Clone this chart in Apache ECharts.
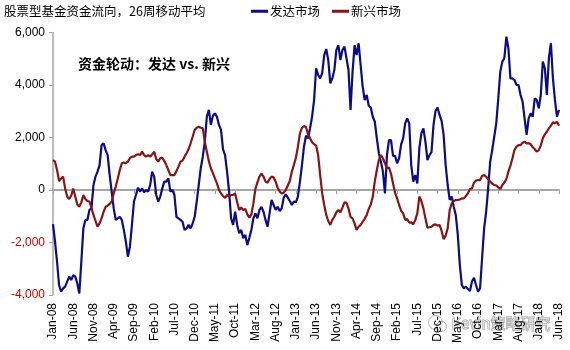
<!DOCTYPE html>
<html>
<head>
<meta charset="utf-8">
<script src="https://cdn.jsdelivr.net/npm/echarts@6/dist/echarts.min.js"></script>
<style>
  html, body { margin: 0; padding: 0; background: #ffffff; }
  #chart { width: 570px; height: 350px; }
</style>
</head>
<body>
<div id="chart"></div>
<script>
// Equity fund flows, 26-week moving average, sampled twice a month (Jan-08 .. Jun-18)
const monthNames = ['Jan', 'Feb', 'Mar', 'Apr', 'May', 'Jun', 'Jul', 'Aug', 'Sep', 'Oct', 'Nov', 'Dec'];
const startYear = 2008;
const endYear = 2018;
const endMonth = 5; // June
const labelEvery = 10; // one label every 5 months (2 samples per month)

// Developed markets
const developed = [
  -1300, -1970, -2730, -3620, -3870, -3750, -3680, -3490, -3300, -3430,
  -3240, -3300, -3560, -3940, -2730, -1460, -1140, -1140, -760, -700,
  190, 510, 700, 950, 1710, 1780, 1520, 1330, 570, -60,
  -700, -1140, -1080, -1020, -1140, -1520, -1970, -2540, -2160, -1330,
  -440, -190, 90, -60, 60, -90, 0, -60, 190, 700,
  510, -190, -440, -250, 60, 320, 320, 440, -60, 0,
  -190, -1020, -1080, -1140, -1210, -1520, -1460, -1330, -1460, -1270,
  -1020, -440, 190, 830, 1270, 1840, 2790, 3050, 2480, 2830,
  2920, 2790, 2480, 2300, 1550, 1330, 700, -60, -1080, -1330,
  -830, -1330, -1650, -1520, -1840, -1710, -2100, -1820, -1520, -1080,
  -890, -1080, -760, -640, -830, -1140, -1400, -890, -380, -570,
  -760, -640, -800, -700, -290, -170, -290, -420, -570, -440,
  -470, -250, 320, 950, 1650, 2070, 1970, 2350, 2790, 3430,
  4640, 4380, 4250, 4450, 5140, 5370, 4950, 4060, 4250, 4570,
  5330, 5520, 4950, 5330, 5460, 5020, 4570, 3050, 4500, 5520,
  5140, 5590, 4760, 3940, 3430, 3620, 3210, 3140, 2790, 2600,
  1970, 1400, 1080, 700, -130, 1330, 1900, 1900, 1300, 1300,
  1020, 1210, 1740, 1970, 2540, 2730, 2540, 950, 320, 570,
  250, 1590, 2160, 2350, 1840, 1140, 1330, 1440, 2480, 3010,
  3140, 2860, 2630, 2100, 950, 190, -380, -250, -640, -950,
  -1710, -2860, -3620, -3750, -3680, -3770, -3850, -3490, -3340, -3620,
  -3870, -3750, -2600, -1460, -830, 60, 1080, 1520, 2030, 2540,
  3490, 4510, 4890, 5020, 5840, 5400, 4250, 4250, 4190, 4000,
  4000, 3620, 3370, 2730, 2100, 2730, 2920, 2790, 3490, 3430,
  3110, 3620, 4890, 4640, 3620, 5020, 5590, 4250, 3430, 2790,
  3050
];

// Emerging markets
const emerging = [
  1140, 1080, 760, 340, 440, 510, 60, -250, -340, -220,
  60, -250, -550, -640, -470, -190, -340, -420, -440, -670,
  -950, -1180, -1400, -1270, -1080, -830, -640, -600, -530, -440,
  -130, 130, 440, 760, 1020, 1050, 1020, 1080, 1210, 1270,
  1270, 1330, 1360, 1330, 1460, 1330, 1270, 1330, 1270, 1360,
  1460, 1180, 1080, 1210, 1240, 1100, 950, 760, 570, 570,
  570, 720, 890, 1080, 1120, 1270, 1400, 1560, 1780, 2030,
  2290, 2370, 2410, 2370, 2350, 1840, 1460, 1100, 830, 640,
  440, 250, 0, -130, -230, -300, -190, -250, -190, -190,
  -130, -470, -760, -670, -760, -720, -930, -1050, -930, -510,
  40, 290, 510, 620, 510, 320, 280, 420, 510, 480,
  320, 90, -60, -130, -100, 0, 170, 340, 700, 950,
  1230, 1650, 2160, 2370, 2440, 2390, 2120, 1970, 1820, 1750,
  1690, 1330, 570, -130, -570, -950, -1180, -1330, -1140, -1020,
  -850, -760, -850, -670, -470, -490, -700, -1020, -1080, -1270,
  -1520, -1400, -1330, -1210, -1100, -950, -720, -550, -250, 340,
  760, 1140, 1330, 1210, 1020, 830, 860, 620, 250, -100,
  -320, -570, -790, -890, -1140, -1110, -1240, -1230, -1310, -1140,
  -890, -250, -420, -700, -1080, -1440, -1420, -1400, -1330, -1310,
  -1360, -1330, -1560, -1870, -1740, -1460, -760, -510, -420, -380,
  -380, -360, -320, -320, -230, -130, 40, 60, 280, 360,
  380, 380, 530, 570, 510, 410, 320, 240, 190, 170,
  100, 40, 190, 280, 420, 700, 930, 1210, 1520, 1650,
  1710, 1710, 1800, 1840, 1780, 1780, 1750, 1630, 1560, 1460,
  1520, 1690, 1970, 2120, 2220, 2350, 2450, 2580, 2540, 2600,
  2450
];

// Two sample slots per month; the first slot carries the month label
const periods = [];
for (let y = startYear; y <= endYear; y++) {
  for (let m = 0; m < 12; m++) {
    if (y === endYear && m > endMonth) break;
    const label = monthNames[m] + '-' + String(y).slice(2);
    periods.push(label);
    periods.push(label + ' H2');
  }
}
periods.length = developed.length;

const font = 'Liberation Sans, Arial, sans-serif';
const cjkFont = 'Noto Sans CJK SC, sans-serif';
const axisGray = '#a6a6a6';

const chart = echarts.init(document.getElementById('chart'), null, { renderer: 'canvas' });

chart.setOption({
  animation: false,
  backgroundColor: '#ffffff',
  title: {
    text: '股票型基金资金流向，26周移动平均',
    left: 4,
    top: 5,
    padding: 0,
    textStyle: { fontFamily: cjkFont, fontSize: 12.5, fontWeight: 'normal', color: '#000000' }
  },
  legend: {
    left: 251,
    top: 5,
    padding: 0,
    itemGap: 12,
    itemWidth: 17,
    itemHeight: 3,
    icon: 'rect',
    textStyle: { fontFamily: cjkFont, fontSize: 12.5, color: '#000000', padding: [0, 0, 0, -3] },
    data: ['发达市场', '新兴市场']
  },
  grid: { left: 53, right: 11, top: 32.5, bottom: 55, containLabel: false },
  xAxis: [
    {
      type: 'category',
      data: periods,
      boundaryGap: false,
      position: 'bottom',
      axisLine: { show: false, onZero: false },
      axisTick: { show: false },
      axisLabel: {
        interval: (idx) => idx % labelEvery === 0,
        rotate: 90,
        margin: 8,
        fontFamily: font,
        fontSize: 12,
        color: '#000000'
      },
      splitLine: { show: false }
    },
    {
      type: 'category',
      data: periods,
      boundaryGap: false,
      position: 'bottom',
      axisLine: { show: true, onZero: true, lineStyle: { color: axisGray, width: 2 } },
      axisTick: {
        show: true,
        interval: (idx) => idx % labelEvery === 0,
        length: 4,
        lineStyle: { color: axisGray, width: 1 }
      },
      axisLabel: { show: false },
      splitLine: { show: false }
    }
  ],
  yAxis: {
    type: 'value',
    min: -4000,
    max: 6000,
    interval: 2000,
    axisLine: { show: true, lineStyle: { color: axisGray, width: 1.5 } },
    axisTick: { show: true, length: 4, lineStyle: { color: axisGray } },
    splitLine: { show: false },
    axisLabel: {
      margin: 8,
      fontFamily: font,
      fontSize: 12,
      formatter: (v) => Number(v).toLocaleString('en-US'),
      color: (v) => (Number(v) < 0 ? '#d00000' : '#000000')
    }
  },
  series: [
    {
      name: '发达市场',
      type: 'line',
      xAxisIndex: 0,
      data: developed,
      symbol: 'none',
      color: '#0c0c86',
      lineStyle: { width: 2.2, color: '#0c0c86' },
      z: 3
    },
    {
      name: '新兴市场',
      type: 'line',
      xAxisIndex: 0,
      data: emerging,
      symbol: 'none',
      color: '#8a1414',
      lineStyle: { width: 2.2, color: '#8a1414' },
      z: 4
    }
  ],
  graphic: [
    {
      type: 'text',
      left: 78,
      top: 57,
      style: {
        text: '资金轮动：发达 vs. 新兴',
        font: 'bold 14px ' + cjkFont,
        fill: '#000000'
      }
    },
    {
      // account badge in the lower right corner
      type: 'group',
      left: 428,
      top: 315,
      z: 10,
      children: [
        {
          type: 'circle',
          shape: { cx: 8, cy: 8, r: 7 },
          style: { fill: 'rgba(255,255,255,0.5)', stroke: 'rgba(140,140,140,0.7)', lineWidth: 1 }
        },
        {
          type: 'circle',
          shape: { cx: 14, cy: 12, r: 5 },
          style: { fill: 'rgba(255,255,255,0.5)', stroke: 'rgba(140,140,140,0.7)', lineWidth: 1 }
        },
        {
          type: 'text',
          x: 24,
          y: 1,
          style: {
            text: 'Kevin策略研究',
            font: '15px ' + cjkFont,
            fill: 'rgba(255,255,255,0.6)',
            stroke: 'rgba(120,120,120,0.75)',
            lineWidth: 1
          }
        }
      ]
    }
  ]
});
</script>
</body>
</html>
